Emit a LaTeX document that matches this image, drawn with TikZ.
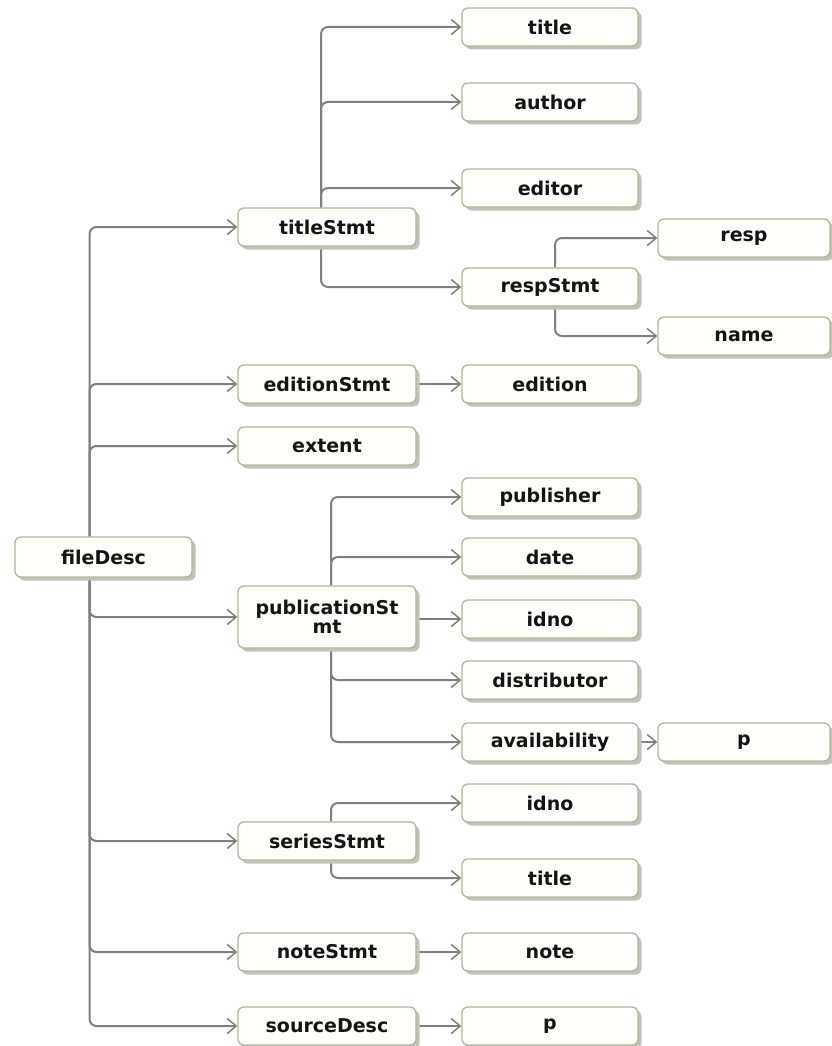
\documentclass[tikz,border=0pt]{standalone}
\usepackage{fontspec}
\setmainfont{DejaVu Sans}
\usetikzlibrary{arrows.meta,shadows,backgrounds}
\definecolor{edgegray}{HTML}{808080}
\definecolor{boxborder}{HTML}{B4B49C}
\definecolor{boxfill}{HTML}{FFFFFC}
\definecolor{shadowc}{HTML}{C2C2B8}
\begin{document}
\begin{tikzpicture}[x=1pt,y=-1pt,
  box/.style={draw=boxborder, line width=1.3pt, fill=boxfill, rounded corners=6pt,
    minimum width=176pt, minimum height=38pt, inner sep=0pt, align=center,
    font=\fontsize{19}{19.5}\selectfont\bfseries, text=black!92,
    drop shadow={shadow xshift=3.5pt, shadow yshift=-3.5pt, fill=shadowc, opacity=1}},
  colA/.style={box, minimum width=177pt, minimum height=40pt},
  colB/.style={box, minimum width=178pt},
  colC/.style={box, minimum width=176pt},
  colD/.style={box, minimum width=172pt},
  edge/.style={draw=edgegray, line width=2pt, rounded corners=7pt,
    -{Straight Barb[length=9pt,width=15pt,line width=1.5pt]}}]
\useasboundingbox (0,0) rectangle (831,1046);

% column 1
\node[colA] (fileDesc) at (103.5,557) {fileDesc};

% column 2
\node[colB] (titleStmt) at (327,227) {titleStmt};
\node[colB] (editionStmt) at (327,384) {editionStmt};
\node[colB] (extent) at (327,446) {extent};
\node[colB, minimum height=62pt] (publicationStmt) at (327,617) {publicationSt\\mt};
\node[colB] (seriesStmt) at (327,841) {seriesStmt};
\node[colB] (noteStmt) at (327,952) {noteStmt};
\node[colB] (sourceDesc) at (327,1026) {sourceDesc};

% column 3
\node[colC] (title) at (550,27) {title};
\node[colC] (author) at (550,102) {author};
\node[colC] (editor) at (550,188) {editor};
\node[colC] (respStmt) at (550,287) {respStmt};
\node[colC] (edition) at (550,384) {edition};
\node[colC] (publisher) at (550,497) {publisher};
\node[colC] (date) at (550,557) {date};
\node[colC] (idno) at (550,619) {idno};
\node[colC] (distributor) at (550,680) {distributor};
\node[colC] (availability) at (550,742) {availability};
\node[colC] (idnoB) at (550,803) {idno};
\node[colC] (titleB) at (550,878) {title};
\node[colC] (note) at (550,952) {note};
\node[colC] (pB) at (550,1026) {p};

% column 4
\node[colD] (resp) at (744,238) {resp};
\node[colD] (name) at (744,336) {name};
\node[colD] (pA) at (744,742) {p};

\begin{pgfonlayer}{background}
\fill[white] (0,0) rectangle (831,1046);
% fileDesc
\draw[edge] ([xshift=-14pt]fileDesc.north) |- (titleStmt.west);
\draw[edge] ([xshift=-14pt]fileDesc.north) |- (editionStmt.west);
\draw[edge] ([xshift=-14pt]fileDesc.north) |- (extent.west);
\draw[edge] ([xshift=-14pt]fileDesc.south) |- (publicationStmt.west);
\draw[edge] ([xshift=-14pt]fileDesc.south) |- (seriesStmt.west);
\draw[edge] ([xshift=-14pt]fileDesc.south) |- (noteStmt.west);
\draw[edge] ([xshift=-14pt]fileDesc.south) |- (sourceDesc.west);
% titleStmt
\draw[edge] ([xshift=-6pt]titleStmt.north) |- (title.west);
\draw[edge] ([xshift=-6pt]titleStmt.north) |- (author.west);
\draw[edge] ([xshift=-6pt]titleStmt.north) |- (editor.west);
\draw[edge] ([xshift=-6pt]titleStmt.south) |- (respStmt.west);
% respStmt
\draw[edge] ([xshift=5pt]respStmt.north) |- (resp.west);
\draw[edge] ([xshift=5pt]respStmt.south) |- (name.west);
% editionStmt
\draw[edge] (editionStmt.east) -- (edition.west);
% publicationStmt
\draw[edge] ([xshift=4pt]publicationStmt.north) |- (publisher.west);
\draw[edge] ([xshift=4pt]publicationStmt.north) |- (date.west);
\draw[edge] (publicationStmt.east |- idno.west) -- (idno.west);
\draw[edge] ([xshift=4pt]publicationStmt.south) |- (distributor.west);
\draw[edge] ([xshift=4pt]publicationStmt.south) |- (availability.west);
\draw[edge] (availability.east) -- (pA.west);
% seriesStmt
\draw[edge] ([xshift=4pt]seriesStmt.north) |- (idnoB.west);
\draw[edge] ([xshift=4pt]seriesStmt.south) |- (titleB.west);
% noteStmt, sourceDesc
\draw[edge] (noteStmt.east) -- (note.west);
\draw[edge] (sourceDesc.east) -- (pB.west);
\end{pgfonlayer}
\end{tikzpicture}
\end{document}
